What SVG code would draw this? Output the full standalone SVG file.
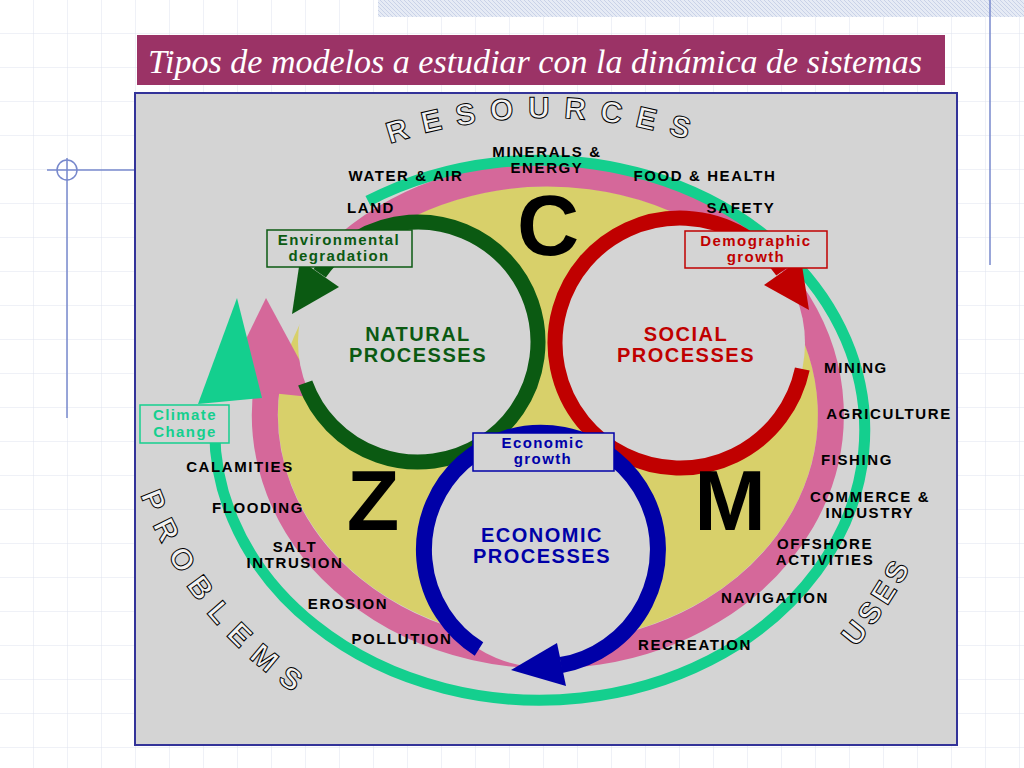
<svg xmlns="http://www.w3.org/2000/svg" width="1024" height="768" viewBox="0 0 1024 768">
<defs>
<pattern id="grid" width="34" height="34" patternUnits="userSpaceOnUse">
<path d="M34 0V34M0 34H34" fill="none" stroke="#dfe3ee" stroke-width="1"/>
</pattern>
<pattern id="hatch" width="4" height="4" patternUnits="userSpaceOnUse">
<rect width="4" height="4" fill="#e6ebf5"/><path d="M0 0L4 4" stroke="#c9d2e8" stroke-width="1"/>
</pattern>
<path id="pRes" d="M177 291 A478 478 0 0 1 913 291"/>
<path id="pProb" d="M118.5 395.1 A405 405 0 0 0 395.5 743.3"/>
<path id="pUses" d="M741 742.8 A442 442 0 0 0 957.7 421.5"/>
</defs>
<style>
.lbl{font-family:"Liberation Sans",Arial,sans-serif;font-weight:bold;font-size:15px;letter-spacing:1.6px;fill:#000;text-anchor:middle}
.big{font-family:"Liberation Sans",Arial,sans-serif;font-weight:bold;font-size:86px;fill:#000;text-anchor:middle}
.proc{font-family:"Liberation Sans",Arial,sans-serif;font-weight:bold;font-size:20px;letter-spacing:1.5px;text-anchor:middle}
.box{font-family:"Liberation Sans",Arial,sans-serif;font-weight:bold;font-size:15px;letter-spacing:1.4px;text-anchor:middle}
.out{font-family:"Liberation Sans",Arial,sans-serif;font-weight:bold;font-size:30px;fill:#f2f2f2;stroke:#000;stroke-width:1}
.arc{fill:none}
</style>
<rect width="1024" height="768" fill="#fff"/>
<rect width="1024" height="768" fill="url(#grid)"/>
<rect x="378" y="0" width="646" height="17" fill="url(#hatch)"/>
<line x1="990" y1="0" x2="990" y2="265" stroke="#7788cc" stroke-width="1.5"/>
<line x1="47" y1="170" x2="135" y2="170" stroke="#7788cc" stroke-width="1.5"/>
<line x1="67" y1="158" x2="67" y2="418" stroke="#7788cc" stroke-width="1.5"/>
<circle cx="67" cy="170" r="10" fill="none" stroke="#7788cc" stroke-width="1.5"/>
<rect x="137" y="35" width="808" height="50" fill="#9b3366"/>
<text x="148" y="73" font-family="Liberation Serif,serif" font-style="italic" font-size="33" textLength="774" lengthAdjust="spacingAndGlyphs" fill="#fff">Tipos de modelos a estudiar con la dinámica de sistemas</text>
<rect x="135" y="93" width="822" height="652" fill="#d4d4d4" stroke="#333399" stroke-width="2"/>

<g id="rings">
<ellipse cx="548" cy="414" rx="270" ry="228" fill="#d8d06a"/>
<path class="arc" d="M348 244 A283 241 0 1 1 267 385" stroke="#d5689a" stroke-width="26"/>
<polygon points="320,398 266,298 222,388" fill="#d5689a"/>
<path class="arc" d="M368 201 A325 270 0 1 1 216 406.5" stroke="#14cf8e" stroke-width="11"/>
<polygon points="262,398 237,298 198,404" fill="#14cf8e"/>
</g>

<g id="natural">
<circle cx="418" cy="342" r="120" fill="#d4d4d4"/>
</g>
<g id="social">
<circle cx="680" cy="343" r="125" fill="#d4d4d4"/>
</g>
<g id="economic">
<circle cx="541" cy="550" r="117" fill="#d4d4d4"/>
</g>
<g id="connectors">
<path class="arc" d="M305.2 383 A120 120 0 1 0 319.7 273.2" stroke="#0b5a12" stroke-width="15"/>
<polygon points="339,287 292,314 300,260" fill="#0b5a12"/>
<path class="arc" d="M802.3 369 A125 125 0 1 1 782.4 271.3" stroke="#c00000" stroke-width="15"/>
<polygon points="801,259 809,310 764,285" fill="#c00000"/>
<path class="arc" d="M479 649 A117 117 0 1 1 561 665" stroke="#0000a8" stroke-width="16"/>
<polygon points="566,686 511,670 557,643" fill="#0000a8"/>
</g>

<g id="labels-natural">
<text class="proc" x="418" y="341" fill="#0b5a12">NATURAL</text>
<text class="proc" x="418" y="362" fill="#0b5a12">PROCESSES</text>
</g>
<g id="labels-social">
<text class="proc" x="686" y="341" fill="#c00000">SOCIAL</text>
<text class="proc" x="686" y="362" fill="#c00000">PROCESSES</text>
</g>
<g id="labels-economic">
<text class="proc" x="542" y="542" fill="#0000a8">ECONOMIC</text>
<text class="proc" x="542" y="563" fill="#0000a8">PROCESSES</text>
</g>

<g id="env-box">
<rect x="267" y="230" width="145" height="37" fill="#d4d4d4" stroke="#0b5a12" stroke-width="1.5"/>
<text class="box" x="339" y="245" fill="#0b5a12">Environmental</text>
<text class="box" x="339" y="261" fill="#0b5a12">degradation</text>
</g>
<g id="demo-box">
<rect x="685" y="231" width="142" height="37" fill="#d4d4d4" stroke="#c00000" stroke-width="1.5"/>
<text class="box" x="756" y="246" fill="#c00000">Demographic</text>
<text class="box" x="756" y="262" fill="#c00000">growth</text>
</g>
<g id="econ-box">
<rect x="473" y="433" width="141" height="38" fill="#d4d4d4" stroke="#0000a8" stroke-width="1.5"/>
<text class="box" x="543" y="448" fill="#0000a8">Economic</text>
<text class="box" x="543" y="464" fill="#0000a8">growth</text>
</g>
<g id="climate-box">
<rect x="140" y="405" width="89" height="38" fill="#d4d4d4" stroke="#14cf8e" stroke-width="1.5"/>
<text class="box" x="185" y="420" fill="#14cf8e">Climate</text>
<text class="box" x="185" y="437" fill="#14cf8e">Change</text>
</g>

<g id="letters">
<text class="big" x="548" y="255">C</text>
<text class="big" x="373" y="530">Z</text>
<text class="big" x="730" y="530">M</text>
</g>

<g id="resources">
<text class="lbl" x="547" y="157">MINERALS &amp;</text>
<text class="lbl" x="547" y="173">ENERGY</text>
<text class="lbl" x="406" y="181">WATER &amp; AIR</text>
<text class="lbl" x="705" y="181">FOOD &amp; HEALTH</text>
<text class="lbl" x="371" y="213">LAND</text>
<text class="lbl" x="741" y="213">SAFETY</text>
</g>
<g id="uses">
<text class="lbl" x="856" y="373">MINING</text>
<text class="lbl" x="889" y="419">AGRICULTURE</text>
<text class="lbl" x="857" y="465">FISHING</text>
<text class="lbl" x="870" y="502">COMMERCE &amp;</text>
<text class="lbl" x="870" y="518">INDUSTRY</text>
<text class="lbl" x="825" y="549">OFFSHORE</text>
<text class="lbl" x="825" y="565">ACTIVITIES</text>
<text class="lbl" x="775" y="603">NAVIGATION</text>
<text class="lbl" x="695" y="650">RECREATION</text>
</g>
<g id="problems">
<text class="lbl" x="240" y="472">CALAMITIES</text>
<text class="lbl" x="258" y="513">FLOODING</text>
<text class="lbl" x="295" y="552">SALT</text>
<text class="lbl" x="295" y="568">INTRUSION</text>
<text class="lbl" x="348" y="609">EROSION</text>
<text class="lbl" x="402" y="644">POLLUTION</text>
</g>

<g id="arc-titles">
<text class="out" letter-spacing="14" text-anchor="middle"><textPath href="#pRes" startOffset="50%">RESOURCES</textPath></text>
<text class="out" letter-spacing="12" text-anchor="middle"><textPath href="#pProb" startOffset="50%">PROBLEMS</textPath></text>
<text class="out" letter-spacing="5" text-anchor="middle"><textPath href="#pUses" startOffset="50%">USES</textPath></text>
</g>
</svg>
